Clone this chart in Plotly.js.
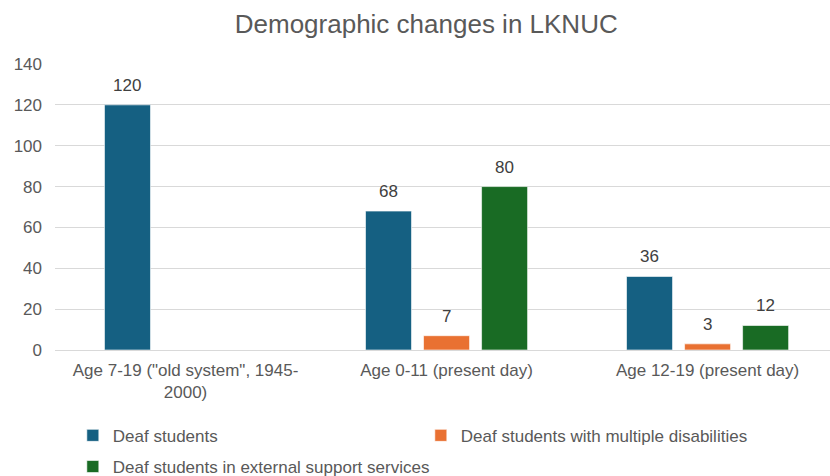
<!DOCTYPE html>
<html>
<head>
<meta charset="utf-8">
<script src="https://cdn.plot.ly/plotly-3.0.1.min.js"></script>
<style>
  html, body { margin: 0; padding: 0; background: #ffffff; }
  #chart { width: 830px; height: 476px; }
</style>
</head>
<body>
<div id="chart"></div>
<script>
// Student counts per age group
const categories = [
  'Age 7-19 ("old system", 1945-<br>2000)',
  'Age 0-11 (present day)',
  'Age 12-19 (present day)'
];
const seriesNames = [
  'Deaf students',
  'Deaf students with multiple disabilities',
  'Deaf students in external support services'
];
const deafStudents = [120, 68, 36];
const multipleDisabilities = [null, 7, 3];
const externalSupport = [null, 80, 12];
const yTicks = [0, 20, 40, 60, 80, 100, 120, 140];

const seriesValues = [deafStudents, multipleDisabilities, externalSupport];
const seriesColors = ['#156082', '#E97132', '#196B24'];
const legendIds = ['legend', 'legend', 'legend2'];

const FONT = '"Liberation Sans", Arial, sans-serif';
const TEXT_GREY = '#595959';
const BAR_GAP = 0.333;
const GROUP_GAP = 0.207;

const traces = seriesValues.map((vals, i) => ({
  type: 'bar',
  name: seriesNames[i],
  x: categories,
  y: vals,
  legend: legendIds[i],
  marker: {
    color: seriesColors[i],
    line: { color: 'rgba(255,255,255,0.6)', width: 1 }
  },
  hoverinfo: 'x+y+name'
}));

// value labels above each bar, offset to the bar's slot within its group
const slot = (1 - BAR_GAP) / seriesValues.length;
const annotations = [];
seriesValues.forEach((vals, i) => {
  vals.forEach((v, c) => {
    if (v === null) return;
    annotations.push({
      x: c + (i - (seriesValues.length - 1) / 2) * slot,
      y: v,
      xref: 'x', yref: 'y',
      text: String(v),
      showarrow: false,
      yanchor: 'bottom',
      yshift: 8,
      font: { family: FONT, size: 17, color: '#404040' }
    });
  });
});

const layout = {
  width: 830,
  height: 476,
  paper_bgcolor: '#ffffff',
  plot_bgcolor: 'rgba(0,0,0,0)',
  margin: { l: 55, r: 0, t: 64, b: 126, autoexpand: false },
  font: { family: FONT, size: 17, color: TEXT_GREY },
  title: {
    text: 'Demographic changes in LKNUC',
    font: { family: FONT, size: 26, color: TEXT_GREY },
    xref: 'paper', x: 0.479, xanchor: 'center',
    yref: 'container', y: 0.949, yanchor: 'middle'
  },
  barmode: 'group',
  bargap: BAR_GAP,
  bargroupgap: GROUP_GAP,
  xaxis: {
    type: 'category',
    range: [-0.5, 2.469],
    showgrid: false,
    showline: false,
    ticks: '',
    ticklabelstandoff: 8,
    tickfont: { family: FONT, size: 17, color: TEXT_GREY },
    fixedrange: true
  },
  yaxis: {
    range: [0, 140],
    tickvals: yTicks,
    ticktext: yTicks.map(String),
    showgrid: true,
    gridcolor: '#d9d9d9',
    gridwidth: 1,
    zeroline: true,
    zerolinecolor: '#d9d9d9',
    zerolinewidth: 1,
    showline: false,
    ticks: '',
    ticklabelstandoff: 12,
    tickfont: { family: FONT, size: 17, color: TEXT_GREY },
    fixedrange: true
  },
  legend: {
    orientation: 'h',
    x: 0.023, xanchor: 'left',
    y: -0.30, yanchor: 'middle',
    entrywidth: 303,
    entrywidthmode: 'pixels',
    font: { family: FONT, size: 17, color: TEXT_GREY },
    bgcolor: 'rgba(0,0,0,0)'
  },
  legend2: {
    orientation: 'h',
    x: 0.023, xanchor: 'left',
    y: -0.409, yanchor: 'middle',
    font: { family: FONT, size: 17, color: TEXT_GREY },
    bgcolor: 'rgba(0,0,0,0)'
  },
  annotations: annotations,
  showlegend: true
};

Plotly.newPlot('chart', traces, layout, { displayModeBar: false, staticPlot: true });
</script>
</body>
</html>
